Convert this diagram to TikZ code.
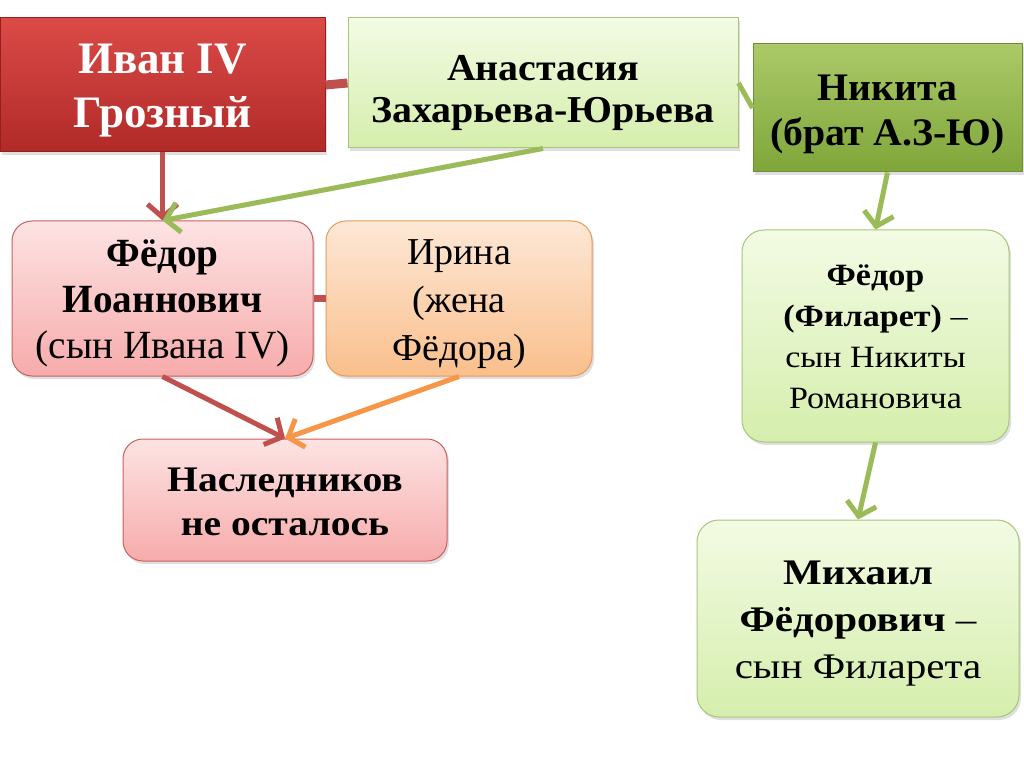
\documentclass[tikz,border=0pt]{standalone}
\usepackage{fontspec}
\usepackage{graphicx}
\setmainfont{Liberation Serif}
\usetikzlibrary{arrows.meta,shadows}
\definecolor{redA}{HTML}{DB4A47}
\definecolor{redB}{HTML}{B02A28}
\definecolor{redE}{HTML}{8E2220}
\definecolor{lgA}{HTML}{F3FBE4}
\definecolor{lgB}{HTML}{D5EEAC}
\definecolor{lgE}{HTML}{A8C67A}
\definecolor{dgA}{HTML}{ABC968}
\definecolor{dgB}{HTML}{7FA63A}
\definecolor{dgE}{HTML}{6E8F35}
\definecolor{pkA}{HTML}{FDE3E3}
\definecolor{pkB}{HTML}{F7ABAB}
\definecolor{pkE}{HTML}{C8605C}
\definecolor{orA}{HTML}{FDE8D6}
\definecolor{orB}{HTML}{FABF8C}
\definecolor{orE}{HTML}{E89A5A}
\definecolor{cRed}{HTML}{C0504D}
\definecolor{cGreen}{HTML}{9BBB59}
\definecolor{cOrange}{HTML}{F79646}
% #1 x-scale, #2 font size, #3 leading, #4 downward shift (pt), #5 lines
\newcommand{\stx}[5]{\fontsize{#2}{#3}\selectfont\scalebox{#1}[1]{\begin{tabular}{@{}c@{}}#5\\[-#4pt]\end{tabular}}}
\tikzset{
  box/.style={draw, line width=1pt, align=center, inner sep=0pt,
    drop shadow={shadow xshift=2pt, shadow yshift=-3pt, opacity=0.25}},
  redbox/.style={box, top color=redA, bottom color=redB, draw=redE, text=white},
  lgbox/.style={box, top color=lgA, bottom color=lgB, draw=lgE},
  dgbox/.style={box, top color=dgA, bottom color=dgB, draw=dgE},
  pkbox/.style={box, rounded corners=20pt, top color=pkA, bottom color=pkB, draw=pkE},
  orbox/.style={box, rounded corners=20pt, top color=orA, bottom color=orB, draw=orE},
  lgrbox/.style={box, rounded corners=22pt, top color=lgA, bottom color=lgB, draw=lgE},
  arr/.style={line width=5pt, -{Straight Barb[length=13pt,width=30pt,line width=5pt]}},
  link/.style={line width=6pt},
}
\begin{document}
\begin{tikzpicture}[x=1pt,y=-1pt]
\useasboundingbox (0,0) rectangle (1024,767);
\fill[white] (0,0) rectangle (1024,767);
\node[redbox, minimum width=325pt, minimum height=134pt] (ivan) at (162.5,85)
  {\bfseries\stx{1}{45}{54}{10}{Иван IV\\Грозный}};
\node[lgbox, minimum width=390pt, minimum height=130pt] (anast) at (543,83)
  {\bfseries\stx{1.05}{38}{42}{20}{Анастасия\\Захарьева-Юрьева}};
\node[dgbox, minimum width=269pt, minimum height=128pt] (nikita) at (887.5,108)
  {\bfseries\stx{1.02}{39}{45}{13}{Никита\\(брат А.З-Ю)}};
\node[pkbox, minimum width=301pt, minimum height=155pt] (fedor) at (162.5,298.5)
  {\stx{0.98}{40}{46}{10}{\textbf{Фёдор}\\\textbf{Иоаннович}\\(сын Ивана IV)}};
\node[orbox, minimum width=266pt, minimum height=155pt] (irina) at (459,298.5)
  {\stx{1}{38}{48}{8}{Ирина\\(жена\\Фёдора)}};
\node[pkbox, minimum width=324pt, minimum height=122pt] (nasl) at (285,500)
  {\bfseries\stx{1.1}{36}{44}{10}{Наследников\\не осталось}};
\node[lgrbox, minimum width=267pt, minimum height=212pt] (filaret) at (875.5,336)
  {\stx{1.1}{31}{41}{6}{\textbf{Фёдор}\\\textbf{(Филарет)} –\\сын Никиты\\Романовича}};
\node[lgrbox, minimum width=322pt, minimum height=197pt] (mikhail) at (858,618.5)
  {\stx{1.14}{36}{47}{8}{\textbf{Михаил}\\\textbf{Фёдорович} –\\сын Филарета}};
% connectors
\draw[link, cRed, line width=9pt] (ivan.east) -- (anast.west);
\draw[link, cGreen, line width=5pt] (anast.east) -- (nikita.west);
\draw[link, cRed, line width=7pt] (fedor.east) -- (irina.west);
\draw[arr, cRed] (ivan.south) -- (fedor.north);
\draw[arr, cGreen] (anast.south) -- (fedor.north);
\draw[arr, cGreen] (nikita.south) -- (filaret.north);
\draw[arr, cGreen] (filaret.south) -- (mikhail.north);
\draw[arr, cRed] (fedor.south) -- (nasl.north);
\draw[arr, cOrange] (irina.south) -- (nasl.north);
\end{tikzpicture}
\end{document}
